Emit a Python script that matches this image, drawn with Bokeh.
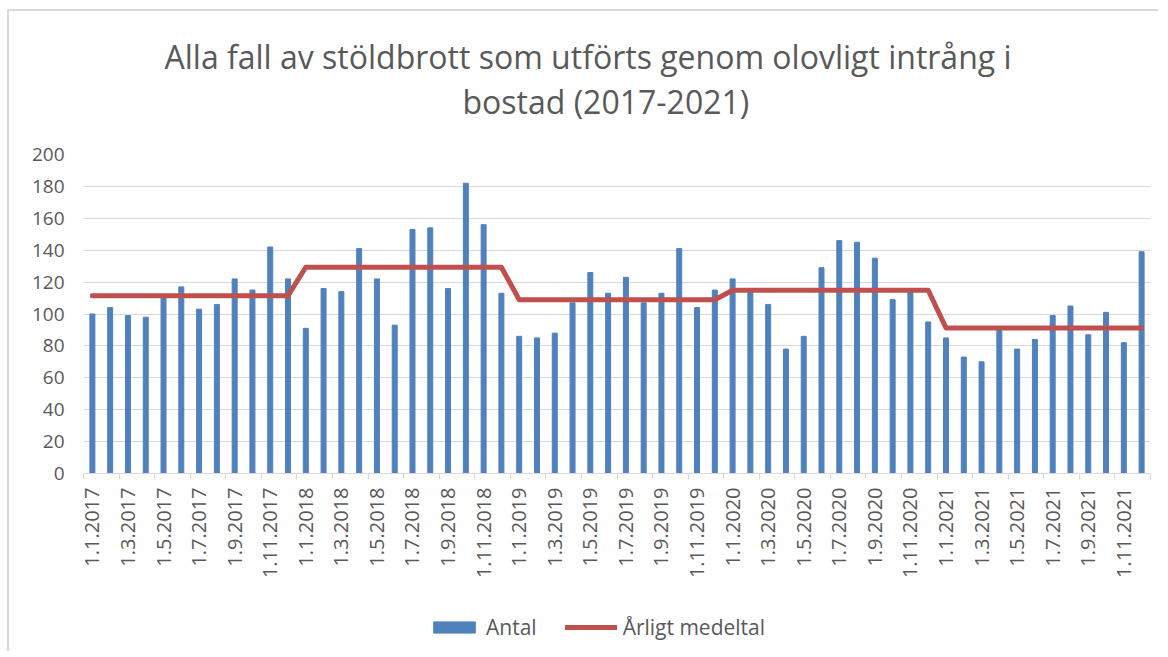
import math
from bokeh.plotting import figure
from bokeh.layouts import column
from bokeh.models import (ColumnDataSource, Range1d, FixedTicker, LinearAxis,
                          Legend, LegendItem, Title)
from bokeh.embed import file_html
from bokeh.resources import INLINE

years = [2017, 2018, 2019, 2020, 2021]
months = list(range(1, 13))
labels = [f"1.{m}.{y}" for y in years for m in months]

antal = [
    100, 104, 99, 98, 110, 117, 103, 106, 122, 115, 142, 122,   # 2017
    91, 116, 114, 141, 122, 93, 153, 154, 116, 182, 156, 113,   # 2018
    86, 85, 88, 107, 126, 113, 123, 107, 113, 141, 104, 115,    # 2019
    122, 114, 106, 78, 86, 129, 146, 145, 135, 109, 114, 95,    # 2020
    85, 73, 70, 92, 78, 84, 99, 105, 87, 101, 82, 139,          # 2021
]
arligt_medeltal_per_ar = [111.5, 129.3, 108.9, 114.9, 91.3]

title_rad1 = "Alla fall av stöldbrott som utförts genom olovligt intrång i"
title_rad2 = "bostad (2017-2021)"

x = list(range(len(labels)))
medel = [arligt_medeltal_per_ar[i // 12] for i in x]

src = ColumnDataSource(data=dict(x=x, antal=antal, medel=medel, label=labels))

FONT = "Open Sans"
GREY = "#595959"
BLUE = "#4F81BD"
RED = "#C0504D"

p = figure(frame_width=1067, frame_height=319, output_backend="svg",
           toolbar_location=None,
           x_range=Range1d(-0.5, 59.5), y_range=Range1d(0, 200),
           x_axis_location=None, min_border_left=74, min_border_right=8,
           min_border_top=143, min_border_bottom=118)

# first title line (outer)
p.title.text = title_rad1
p.title.align = "left"
p.title.offset = 81
p.title.text_font = FONT
p.title.text_font_size = "32px"
p.title.text_font_style = "normal"
p.title.text_color = GREY
p.title.standoff = -64

# second title line (next to the plot)
t2 = Title(text=title_rad2, align="left", offset=379, text_font=FONT,
           text_font_size="32px", text_font_style="normal", text_color=GREY,
           standoff=64)
p.add_layout(t2, "above")

p.outline_line_color = None
p.xgrid.grid_line_color = None
p.ygrid.grid_line_color = "#D9D9D9"
p.ygrid.grid_line_width = 1

p.yaxis.ticker = FixedTicker(ticks=list(range(0, 201, 20)))
p.yaxis.axis_line_color = None
p.yaxis.major_tick_line_color = None
p.yaxis.minor_tick_line_color = None
p.yaxis.major_label_text_font = FONT
p.yaxis.major_label_text_font_size = "19px"
p.yaxis.major_label_text_color = GREY
p.yaxis.major_label_standoff = 13

# axis with tick marks at category boundaries
ax_ticks = LinearAxis(ticker=FixedTicker(ticks=[i - 0.5 for i in range(0, 61, 2)]),
                      axis_line_color="#D9D9D9", major_tick_line_color="#D9D9D9",
                      major_tick_out=6, major_tick_in=0, minor_tick_line_color=None,
                      major_label_overrides={i - 0.5: "" for i in range(0, 61, 2)},
                      major_label_text_font_size="1px", major_label_text_color=None,
                      major_label_standoff=0)
p.add_layout(ax_ticks, "below")

# axis with labels at category centers
ax_lab = LinearAxis(ticker=FixedTicker(ticks=list(range(0, 60, 2))),
                    axis_line_color=None, major_tick_line_color=None,
                    minor_tick_line_color=None,
                    major_label_overrides={i: labels[i] for i in range(0, 60, 2)},
                    major_label_orientation=math.pi / 2,
                    major_label_text_font=FONT,
                    major_label_text_font_size="20px",
                    major_label_text_color=GREY,
                    major_label_standoff=2)
p.add_layout(ax_lab, "below")

p.vbar(x="x", top="antal", width=0.28, bottom=0, source=src,
       fill_color=BLUE, line_color=BLUE)
p.line(x="x", y="medel", source=src, line_color=RED, line_width=5,
       line_cap="round", line_join="round")

# legend strip below the chart (hidden proxy renderers, only their legend glyphs show)
p2 = figure(width=1067, height=60, output_backend="svg", toolbar_location=None,
            x_range=Range1d(0, 1), y_range=Range1d(0, 1),
            x_axis_location=None, y_axis_location=None, min_border=0)
p2.outline_line_color = None
p2.grid.visible = False
lb = p2.vbar(x="x", top="antal", width=0.28, bottom=0, source=src,
             fill_color=BLUE, line_color=BLUE, visible=False)
ll = p2.line(x="x", y="medel", source=src, line_color=RED, line_width=5,
             line_cap="round", line_join="round", visible=False)
legend = Legend(items=[LegendItem(label="Antal", renderers=[lb]),
                       LegendItem(label="Årligt medeltal", renderers=[ll])],
                orientation="horizontal", location=(345, 10),
                label_text_font=FONT, label_text_font_size="21px",
                label_text_color=GREY, glyph_width=52, glyph_height=14,
                spacing=28, border_line_color=None, background_fill_alpha=0,
                inactive_fill_alpha=0, click_policy="none",
                margin=0, padding=6, label_standoff=6)
p2.add_layout(legend, "center")

layout = column(p, p2, spacing=0)
layout.styles = {"border-left": "2px solid #D9D9D9", "border-top": "2px solid #D9D9D9",
                 "margin-left": "7px", "margin-top": "9px"}

open("out.html", "w").write(file_html(layout, INLINE))
